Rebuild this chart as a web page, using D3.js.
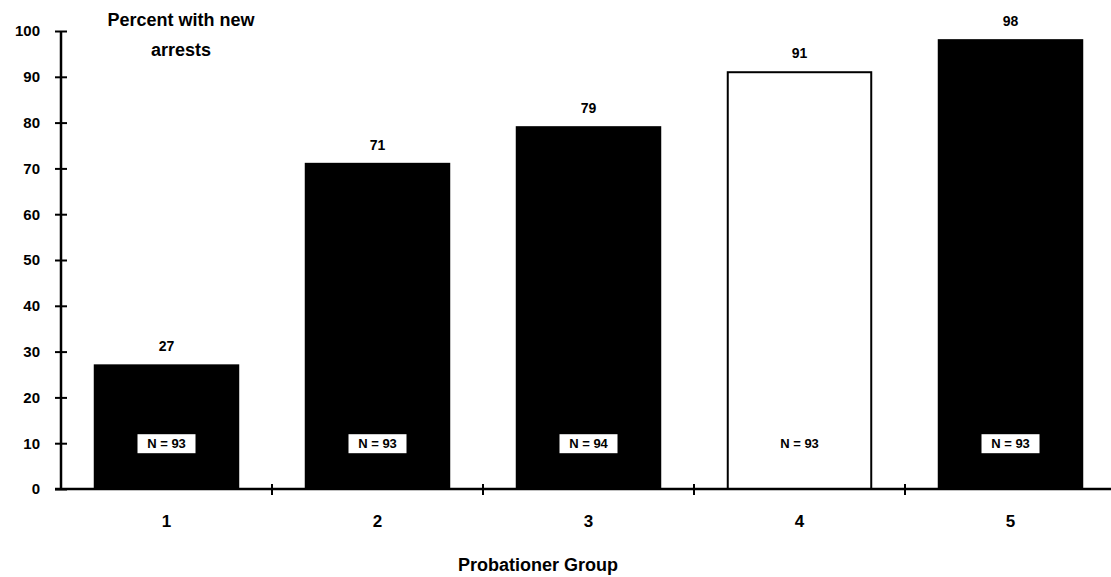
<!DOCTYPE html>
<html>
<head>
<meta charset="utf-8">
<script src="https://cdn.jsdelivr.net/npm/d3@7"></script>
<style>
  body { margin: 0; background: #fff; }
  text { font-family: "Liberation Sans", Arial, sans-serif; font-weight: bold; fill: #000; }
</style>
</head>
<body>
<div id="chart"></div>
<script>
// data
const groups = ["1", "2", "3", "4", "5"];
const percents = [27, 71, 79, 91, 98];
const counts = [93, 93, 94, 93, 93];
const fills = ["#000", "#000", "#000", "#fff", "#000"];
const yTicks = [0, 10, 20, 30, 40, 50, 60, 70, 80, 90, 100];

const width = 1111, height = 577;

const svg = d3.select("#chart")
  .append("svg")
    .attr("width", width)
    .attr("height", height);

const x = d3.scaleBand()
  .domain(groups)
  .range([61, 1116])
  .paddingInner(0.32)
  .paddingOuter(0.16);

const y = d3.scaleLinear()
  .domain([0, 100])
  .range([489, 31]);

// bars
svg.selectAll("rect.bar")
  .data(groups)
  .join("rect")
    .attr("class", "bar")
    .attr("x", d => x(d))
    .attr("width", x.bandwidth())
    .attr("y", (d, i) => y(percents[i]))
    .attr("height", (d, i) => y(0) - y(percents[i]))
    .attr("fill", (d, i) => fills[i])
    .attr("stroke", "#000")
    .attr("stroke-width", 2);

// y axis
const yAxis = svg.append("g")
  .attr("transform", "translate(61,0)")
  .call(d3.axisLeft(y).tickValues(yTicks).tickSize(6).tickPadding(16));
yAxis.select(".domain").attr("stroke-width", 2.5).attr("d", `M0,${y(0)}V${y(100)}`);
yAxis.selectAll(".tick line").attr("x1", -6).attr("x2", 6).attr("stroke-width", 2);
yAxis.selectAll(".tick text")
  .attr("font-size", 15)
  .attr("x", -21)
  .style("font-family", "'Liberation Sans', Arial, sans-serif")
  .style("font-weight", "bold");

// x axis line with ticks on band boundaries
const boundaries = groups.slice(1).map(g => x(g) - x.step() * x.paddingInner() / 2);
svg.append("line")
  .attr("x1", 55).attr("x2", width)
  .attr("y1", y(0)).attr("y2", y(0))
  .attr("stroke", "#000").attr("stroke-width", 2.5);
svg.selectAll("line.xtick")
  .data(boundaries)
  .join("line")
    .attr("class", "xtick")
    .attr("x1", d => d).attr("x2", d => d)
    .attr("y1", y(0) - 5).attr("y2", y(0) + 6)
    .attr("stroke", "#000").attr("stroke-width", 2);

// category labels
svg.selectAll("text.cat")
  .data(groups)
  .join("text")
    .attr("class", "cat")
    .attr("x", d => x(d) + x.bandwidth() / 2)
    .attr("y", 527)
    .attr("text-anchor", "middle")
    .attr("font-size", 17)
    .text(d => d);

// value labels
svg.selectAll("text.val")
  .data(groups)
  .join("text")
    .attr("class", "val")
    .attr("x", d => x(d) + x.bandwidth() / 2)
    .attr("y", (d, i) => y(percents[i]) - 14)
    .attr("text-anchor", "middle")
    .attr("font-size", 14)
    .text((d, i) => percents[i]);

// N boxes
const nG = svg.selectAll("g.n")
  .data(groups)
  .join("g")
    .attr("class", "n")
    .attr("transform", d => `translate(${x(d) + x.bandwidth() / 2},${y(10)})`);
nG.append("rect")
  .attr("x", -29).attr("y", -9)
  .attr("width", 58).attr("height", 19)
  .attr("fill", "#fff");
nG.append("text")
  .attr("text-anchor", "middle")
  .attr("dy", "0.36em")
  .attr("font-size", 13)
  .text((d, i) => "N = " + counts[i]);

// titles
svg.append("text")
  .attr("x", 181).attr("y", 26)
  .attr("text-anchor", "middle")
  .attr("font-size", 18)
  .text("Percent with new");
svg.append("text")
  .attr("x", 181).attr("y", 56)
  .attr("text-anchor", "middle")
  .attr("font-size", 18)
  .text("arrests");
svg.append("text")
  .attr("x", 538).attr("y", 571)
  .attr("text-anchor", "middle")
  .attr("font-size", 18)
  .text("Probationer Group");
</script>
</body>
</html>
